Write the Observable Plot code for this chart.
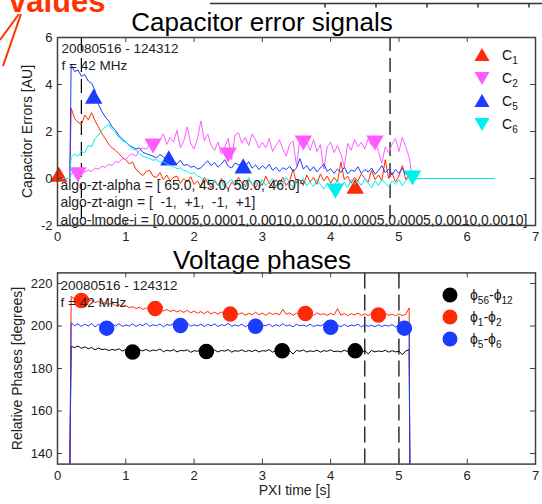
<!DOCTYPE html>
<html><head><meta charset="utf-8">
<script src="https://cdn.jsdelivr.net/npm/d3@7"></script>
<script src="https://cdn.jsdelivr.net/npm/@observablehq/plot@0.6"></script>
<style>
html,body{margin:0;padding:0;background:#fff;}
#wrap{position:relative;width:542px;height:504px;overflow:hidden;font-family:"Liberation Sans",Arial,sans-serif;color:#111;background:#fff;}
.abs{position:absolute;}
svg text{white-space:pre;}
.title{position:absolute;left:0;width:524px;text-align:center;font-size:26px;line-height:22px;color:#000;}
.leg{position:absolute;font-size:14px;line-height:16px;color:#111;display:flex;align-items:center;}
.leg sub{font-size:10px;vertical-align:-4px;line-height:0;}
.leg svg{margin-right:12px;}
</style></head><body>
<div id="wrap">
  <svg class="abs" style="left:0;top:0" width="542" height="70">
    <line x1="19" y1="14" x2="0" y2="40" stroke="#ff3300" stroke-width="2"/>
    <line x1="21" y1="14" x2="3" y2="66" stroke="#ff3300" stroke-width="2"/>
    <path d="M210,3.5H542M325,3.5v4M376,3.5v4M427,3.5v4M478,3.5v4M529,3.5v4" stroke="#333" stroke-width="1.5" fill="none"/>
  </svg>
  <div class="abs" style="left:9px;top:-13px;font-size:31px;line-height:30px;font-weight:bold;color:#ff3300;">values</div>
  <div class="title" style="top:11px;">Capacitor error signals</div>
  <div class="title" style="top:249px;">Voltage phases</div>
  <div id="top" class="abs" style="left:0;top:0;"></div>
  <div id="bottom" class="abs" style="left:0;top:250px;"></div>
  <div id="legTop"></div>
  <div id="legBot"></div>
</div>
<script>
// ---------- shared axis ----------
const xTicks = [0, 1, 2, 3, 4, 5, 6, 7];

// ---------- Capacitor error signals (AU) ----------
const capYTicks = [-2, 0, 2, 4, 6];
const capStart = 0.2, capStep = 0.05;   // first sample time and sample spacing [s]
const capIdle = [0, 0.18];              // loop off: error 0
const capStop = 5.2, capTailEnd = 6.4;  // loop off again
const capCursors = [0.35, 4.87];

const c1 = [3.00,2.55,2.40,2.30,2.70,2.50,2.80,2.45,2.20,1.90,
1.70,1.45,1.30,1.20,1.05,0.90,0.80,0.62,0.70,0.38,
0.25,0.12,0.30,0.35,0.10,0.05,0.25,-0.05,0.15,-0.10,
0.05,0.10,-0.20,0.00,-0.15,0.08,-0.25,-0.10,-0.35,0.05,
-0.20,-0.40,-0.10,-0.30,0.00,-0.25,-0.45,-0.15,-0.30,0.05,
-0.20,-0.35,-0.05,-0.25,-0.40,-0.10,-0.30,0.10,-0.20,-0.35,
-0.05,-0.25,0.05,-0.30,-0.10,0.40,-0.20,-0.05,-0.30,0.15,
-0.15,0.05,-0.25,0.20,-0.10,0.10,-0.20,0.05,-0.15,0.70,
-0.05,0.10,-0.20,0.05,-0.10,0.20,0.00,-0.15,0.35,-0.05,
0.15,-0.10,0.80,0.00,0.25,-0.15,0.10,0.55,-0.05,0.15];

const c2 = [0.20,0.25,0.15,0.30,0.28,0.35,0.30,0.45,0.40,0.52,
0.48,0.60,0.55,0.72,0.68,0.85,0.80,0.98,1.05,0.95,
1.20,1.30,1.25,1.45,1.50,1.35,1.65,1.90,1.45,1.75,
1.55,2.05,1.30,1.60,2.20,1.50,1.25,1.70,2.45,1.60,
1.90,1.40,1.20,1.55,1.05,1.35,1.70,0.80,1.85,1.95,
1.50,1.75,1.40,1.90,1.65,1.30,1.55,1.30,1.70,1.15,
1.40,1.65,1.25,0.95,1.45,1.60,0.55,1.70,1.40,1.55,
1.20,1.65,1.15,1.45,0.40,1.35,1.55,1.10,1.40,1.05,
0.50,1.50,1.20,1.65,1.35,1.55,1.25,1.70,1.40,1.60,
1.15,0.65,1.35,1.10,1.45,1.70,1.15,1.75,1.35,0.90];

const c5 = [4.85,4.55,4.62,4.35,4.42,4.15,4.05,3.75,3.15,2.85,
2.62,2.45,2.20,2.05,1.82,1.68,1.55,1.42,1.33,1.25,
1.30,1.12,1.05,1.00,0.95,0.88,1.02,0.92,0.85,0.95,
0.70,0.62,0.78,0.55,0.60,0.48,0.52,0.40,0.45,0.62,
0.75,0.55,0.68,0.48,0.62,0.80,0.52,0.45,0.66,0.58,
0.62,0.50,0.72,0.44,0.58,0.38,0.55,0.42,0.60,0.35,
0.48,0.30,0.46,0.38,0.52,0.30,0.44,0.85,0.40,0.55,
0.32,0.50,0.28,0.45,0.62,0.30,0.42,0.22,0.40,0.26,
0.48,0.20,0.36,0.30,0.50,0.22,0.38,0.28,0.45,0.18,
0.34,0.55,0.25,0.40,0.15,0.38,0.22,0.44,0.18,0.30];

const c6 = [0.90,1.05,0.95,1.15,1.10,1.40,1.35,1.70,1.85,2.05,
2.20,2.30,2.10,1.95,1.75,1.60,1.55,1.40,1.25,1.20,
1.05,0.95,0.90,0.85,0.78,0.80,0.70,0.72,0.62,0.55,
0.50,0.42,0.45,0.35,0.30,0.20,0.25,0.10,0.05,-0.15,
0.00,-0.25,-0.05,-0.30,-0.10,-0.40,-0.15,-0.05,-0.30,-0.10,
-0.45,-0.20,0.05,-0.25,-0.10,-0.35,-0.05,-0.30,-0.15,0.00,
-0.35,-0.10,-0.25,0.05,-0.20,-0.40,-0.10,-0.25,0.00,-0.30,
-0.15,-0.35,-0.05,-0.25,-0.45,-0.20,-0.50,-0.30,-0.10,-0.35,
-0.15,-0.40,-0.05,-0.25,-0.10,-0.30,0.00,-0.20,-0.40,-0.10,
-0.30,-0.05,-0.20,-0.35,-0.10,-0.25,-0.05,-0.30,-0.10,0.05];

const c1Marks = [[0.02, 0.08], [4.36, -0.43]];
const c2Marks = [[0.30, 0.26], [1.40, 1.49], [2.50, 1.10], [3.60, 1.62], [4.65, 1.62]];
const c5Marks = [[0.53, 3.40], [1.63, 0.77], [2.72, 0.43]];
const c6Marks = [[4.07, -0.43], [5.20, 0.13]];

// ---------- Voltage phases (degrees) ----------
const phYTicks = [140, 160, 180, 200, 220];
const phStart = 0.2, phStep = 0.05;
const phOn = 0.18, phOff = 5.16, phOffValue = 130;   // off-scale before/after the pulse
const phCursors = [4.5, 5.0];

const phi56_12 = [190.5,189.8,190.6,189.5,190.2,189.3,189.9,188.8,189.6,188.9,
189.2,188.4,189.0,188.6,189.3,188.2,188.9,188.5,189.1,188.0,
188.8,188.3,189.0,188.1,188.7,188.4,189.2,187.9,188.6,188.2,
188.9,187.8,188.5,188.3,188.8,187.6,188.4,188.1,188.9,187.9,
188.6,188.0,188.7,187.8,188.5,188.2,188.9,187.7,188.4,188.1,
188.8,187.9,188.5,188.0,188.7,187.8,188.4,188.2,188.9,187.7,
188.5,188.0,188.6,187.9,188.4,186.8,188.5,188.1,188.7,187.8,
188.3,188.0,188.6,187.7,188.4,188.1,188.8,187.9,188.2,187.8,
188.6,187.9,188.3,188.0,188.7,187.6,188.4,186.9,188.5,187.8,
188.3,187.9,188.6,187.7,188.4,187.8,188.2,186.5,188.3,188.9];

const phi1_2 = [214.0,212.5,213.2,212.0,212.6,211.5,212.2,211.0,211.6,210.5,
211.0,210.2,210.8,209.6,210.0,209.2,209.8,208.6,209.1,208.2,
208.9,207.8,208.5,207.6,208.3,207.2,207.9,207.0,207.8,206.8,
207.5,206.6,207.3,206.4,207.4,206.2,207.0,206.0,206.8,205.8,
206.9,205.7,206.5,205.6,206.6,205.4,206.3,205.2,206.4,205.5,
206.2,205.1,206.0,205.3,206.5,205.2,206.1,205.0,206.3,205.4,
206.0,205.2,207.8,205.5,206.2,205.0,206.1,205.3,206.4,205.2,
205.9,205.0,206.2,205.3,205.8,205.0,206.0,205.2,208.2,205.1,
205.9,204.9,205.8,205.2,206.1,205.0,205.7,204.9,206.0,205.1,
205.8,204.8,205.9,205.0,205.6,204.8,205.7,204.9,205.5,208.5];

const phi5_6 = [201.5,200.2,201.0,199.8,200.9,200.0,201.2,199.6,200.8,200.1,
200.6,199.5,200.9,200.0,201.1,199.8,200.5,200.0,201.0,199.7,
200.8,200.2,201.3,199.9,200.6,200.1,201.0,199.6,200.7,200.3,
201.1,199.8,200.5,200.2,201.4,199.9,200.6,200.0,200.9,199.7,
200.8,200.1,201.0,199.8,200.6,200.2,201.2,199.9,200.5,200.0,
200.9,199.6,200.7,200.2,201.0,199.8,200.4,200.1,200.9,199.7,
200.6,199.9,201.1,200.0,200.5,199.6,200.8,200.1,200.4,199.8,
200.9,199.7,200.5,200.0,200.8,199.5,200.6,199.9,200.3,199.7,
200.7,199.8,200.4,200.1,200.9,199.6,200.5,199.9,200.3,199.7,
200.6,199.8,200.4,199.9,200.7,199.5,200.3,199.8,200.5,199.6];

const phi56_12Marks = [[1.10, 187.8], [2.18, 188.0], [3.29, 188.4], [4.36, 188.3]];
const phi1_2Marks = [[0.35, 212.0], [1.43, 208.2], [2.53, 205.6], [3.63, 205.9], [4.70, 205.2]];
const phi5_6Marks = [[0.72, 199.0], [1.80, 200.2], [2.90, 199.9], [4.00, 199.4], [5.08, 199.0]];

// ---------- styles ----------
const RED = "#ff2b06", MAG = "#ff5cff", BLUE = "#1c3cff", CYAN = "#00f0f0", BLACK = "#000000";
const FONT = '"Liberation Sans", Arial, sans-serif';
const AX = "#404040";

function capSeries(vals, tail) {
  const pts = capIdle.map(t => ({t, v: 0}));
  vals.forEach((v, i) => pts.push({t: capStart + i * capStep, v}));
  pts.push({t: capStop, v: 0});
  if (tail) pts.push({t: capTailEnd, v: 0});
  return pts;
}
function phSeries(vals) {
  const pts = [{t: phOn, v: phOffValue}];
  vals.forEach((v, i) => pts.push({t: phStart + i * phStep, v}));
  pts.push({t: phOff, v: phOffValue});
  return pts;
}

// ---------- top plot ----------
const topH = 250, topMT = 37, topMB = 25, mL = 57, mR = 7;
const fw = 542 - mL - mR, fhTop = topH - topMT - topMB;
const capDefs = [
  {vals: c1, marks: c1Marks, color: RED, rot: 0},
  {vals: c2, marks: c2Marks, color: MAG, rot: 180},
  {vals: c5, marks: c5Marks, color: BLUE, rot: 0},
  {vals: c6, marks: c6Marks, color: CYAN, rot: 180, tail: true}
];
const capMarks = [];
capDefs.forEach(s => {
  capMarks.push(Plot.line(capSeries(s.vals, s.tail), {x: "t", y: "v", stroke: s.color, strokeWidth: 1, clip: true}));
  capMarks.push(Plot.dot(s.marks, {x: d => d[0], y: d => d[1], symbol: "triangle", r: 5.5, fill: s.color, stroke: s.color, rotate: s.rot}));
});

const topPlot = Plot.plot({
  width: 542, height: topH, marginLeft: mL, marginRight: mR, marginTop: topMT, marginBottom: topMB,
  x: {domain: [0, 7]}, y: {domain: [-2, 6]},
  style: {fontFamily: FONT, fontSize: "13px", background: "transparent", color: "#222"},
  marks: [
    Plot.ruleX(capCursors, {x: d => d, stroke: "#000", strokeWidth: 1.2, strokeDasharray: "14,7"}),
    ...capMarks,
    Plot.text(["20080516 - 124312\nf = 42 MHz"], {text: d => d, frameAnchor: "top-left", textAnchor: "start", lineAnchor: "top", dx: 4, dy: 3, lineHeight: 1.26, fontSize: 13.5, fill: "#222"}),
    Plot.text(["algo-zt-alpha = [ 65.0, 45.0, 50.0, 46.0]°\nalgo-zt-aign = [  -1,  +1,  -1,  +1]\nalgo-lmode-i = [0.0005,0.0001,0.0010,0.0010,0.0005,0.0005,0.0010,0.0010]"], {text: d => d, frameAnchor: "top-left", textAnchor: "start", lineAnchor: "top", dx: 3, dy: 140.5, lineHeight: 1.24, fontSize: 13.9, fill: "#222"}),
    Plot.text(["Capacitor Errors [AU]"], {text: d => d, frameAnchor: "left", textAnchor: "middle", rotate: -90, dx: -30, fontSize: 14, fill: "#222"}),
    Plot.tickX(xTicks, {x: d => d, insetTop: fhTop - 5, stroke: AX}),
    Plot.tickX(xTicks, {x: d => d, insetBottom: fhTop - 5, stroke: AX}),
    Plot.tickY(capYTicks, {y: d => d, insetRight: fw - 5, stroke: AX}),
    Plot.tickY(capYTicks, {y: d => d, insetLeft: fw - 5, stroke: AX}),
    Plot.axisX({ticks: xTicks, tickSize: 0, tickPadding: 6.5, label: null, tickFormat: d => String(d), fontSize: 13}),
    Plot.axisY({ticks: capYTicks, tickSize: 0, tickPadding: 5, label: null, tickFormat: d => String(d), fontSize: 13}),
    Plot.frame({stroke: AX, strokeWidth: 1.5})
  ]
});
document.getElementById("top").appendChild(topPlot);

// ---------- bottom plot ----------
const botH = 254, botMT = 22.4, botMB = 40.4;
const fhBot = botH - botMT - botMB;
const phDefs = [
  {vals: phi56_12, marks: phi56_12Marks, color: BLACK},
  {vals: phi1_2, marks: phi1_2Marks, color: RED},
  {vals: phi5_6, marks: phi5_6Marks, color: BLUE}
];
const phMarks = [];
phDefs.forEach(s => {
  phMarks.push(Plot.line(phSeries(s.vals), {x: "t", y: "v", stroke: s.color, strokeWidth: 1, clip: true}));
  phMarks.push(Plot.dot(s.marks, {x: d => d[0], y: d => d[1], r: 7, fill: s.color, stroke: s.color}));
});

const botPlot = Plot.plot({
  width: 542, height: botH, marginLeft: mL, marginRight: mR, marginTop: botMT, marginBottom: botMB,
  x: {domain: [0, 7]}, y: {domain: [135, 225]},
  style: {fontFamily: FONT, fontSize: "13px", background: "transparent", color: "#222"},
  marks: [
    Plot.ruleX(phCursors, {x: d => d, stroke: "#000", strokeWidth: 1.2, strokeDasharray: "16,6"}),
    ...phMarks,
    Plot.text(["20080516 - 124312\nf = 42 MHz"], {text: d => d, frameAnchor: "top-left", textAnchor: "start", lineAnchor: "top", dx: 3, dy: 5.5, lineHeight: 1.26, fontSize: 13.5, fill: "#222"}),
    Plot.text(["Relative Phases [degrees]"], {text: d => d, frameAnchor: "left", textAnchor: "middle", rotate: -90, dx: -40, fontSize: 14, fill: "#222"}),
    Plot.text(["PXI time [s]"], {text: d => d, frameAnchor: "bottom", textAnchor: "middle", dx: -2, dy: 31, fontSize: 14, fill: "#222"}),
    Plot.tickX(xTicks, {x: d => d, insetTop: fhBot - 5, stroke: AX}),
    Plot.tickX(xTicks, {x: d => d, insetBottom: fhBot - 5, stroke: AX}),
    Plot.tickY(phYTicks, {y: d => d, insetRight: fw - 5, stroke: AX}),
    Plot.tickY(phYTicks, {y: d => d, insetLeft: fw - 5, stroke: AX}),
    Plot.axisX({ticks: xTicks, tickSize: 0, tickPadding: 7, label: null, tickFormat: d => String(d), fontSize: 13}),
    Plot.axisY({ticks: phYTicks, tickSize: 0, tickPadding: 5, label: null, tickFormat: d => String(d), fontSize: 13}),
    Plot.frame({stroke: AX, strokeWidth: 1.5})
  ]
});
document.getElementById("bottom").appendChild(botPlot);

// ---------- legends ----------
const capLegend = [
  {base: "C", sub: "1", color: RED, shape: "up"},
  {base: "C", sub: "2", color: MAG, shape: "down"},
  {base: "C", sub: "5", color: BLUE, shape: "up"},
  {base: "C", sub: "6", color: CYAN, shape: "down"}
];
const phLegend = [
  {html: "ϕ<sub>56</sub>-ϕ<sub>12</sub>", color: BLACK},
  {html: "ϕ<sub>1</sub>-ϕ<sub>2</sub>", color: RED},
  {html: "ϕ<sub>5</sub>-ϕ<sub>6</sub>", color: BLUE}
];
const lt = document.getElementById("legTop");
capLegend.forEach((e, i) => {
  const d = document.createElement("div");
  d.className = "leg";
  d.style.left = "474px";
  d.style.top = (47 + i * 23) + "px";
  const pts = e.shape === "up" ? "0.5,14 15.5,14 8,1" : "0.5,2 15.5,2 8,15";
  d.innerHTML = `<svg width="16" height="16"><polygon points="${pts}" fill="${e.color}"/></svg><span>${e.base}<sub>${e.sub}</sub></span>`;
  lt.appendChild(d);
});
const lb = document.getElementById("legBot");
phLegend.forEach((e, i) => {
  const d = document.createElement("div");
  d.className = "leg";
  d.style.left = "442px";
  d.style.top = (287 + i * 22) + "px";
  d.innerHTML = `<svg width="16" height="16"><circle cx="8" cy="8" r="7.5" fill="${e.color}"/></svg><span>${e.html}</span>`;
  lb.appendChild(d);
});
</script>
</body></html>
